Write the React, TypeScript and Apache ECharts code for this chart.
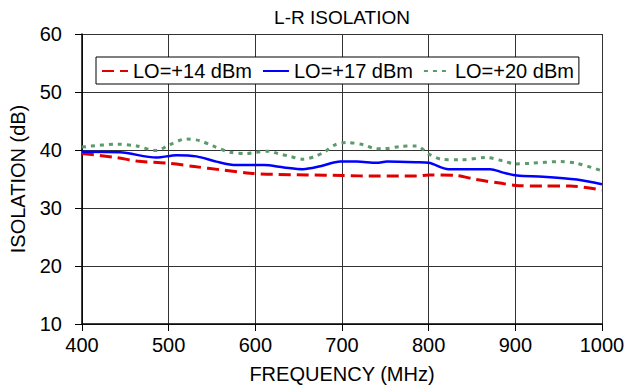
import React, { useEffect, useRef } from "react";
import * as echarts from "echarts";

const titleText = "L-R ISOLATION";
const xName = "FREQUENCY (MHz)";
const yName = "ISOLATION (dB)";
const seriesNames = ["LO=+14 dBm", "LO=+17 dBm", "LO=+20 dBm"];

const lo14Freq = [400, 440, 463, 500, 532, 559, 594, 620, 660, 700, 740, 786, 800, 832, 855, 882, 900, 932, 963, 1000];
const lo14Val = [39.4, 38.7, 38.1, 37.7, 37.1, 36.6, 36.0, 35.8, 35.7, 35.6, 35.5, 35.5, 35.7, 35.6, 34.9, 34.3, 33.9, 33.8, 33.8, 33.1];

const lo17Freq = [400, 444, 486, 509, 532, 555, 578, 610, 633, 655, 675, 698, 717, 740, 752, 786, 800, 823, 848, 871, 886, 902, 932, 971, 1000];
const lo17Val = [39.7, 39.6, 38.7, 39.1, 38.9, 38.0, 37.4, 37.4, 37.0, 36.7, 37.2, 38.0, 38.0, 37.8, 38.0, 37.9, 37.8, 36.7, 36.7, 36.7, 36.1, 35.6, 35.4, 34.9, 34.1];

const lo20Freq = [400, 440, 463, 486, 501, 520, 536, 551, 571, 590, 600, 616, 626, 640, 655, 669, 680, 692, 705, 725, 736, 748, 767, 786, 800, 815, 836, 867, 886, 900, 917, 952, 971, 1000];
const lo20Val = [40.5, 41.0, 40.7, 39.9, 40.9, 41.9, 41.6, 40.7, 39.6, 39.4, 39.6, 39.8, 39.4, 38.9, 38.4, 38.9, 39.7, 40.9, 41.3, 40.9, 40.3, 40.2, 40.6, 40.7, 39.3, 38.4, 38.3, 38.7, 38.1, 37.6, 37.7, 38.0, 37.7, 36.4];

const pair = (xs: number[], ys: number[]) => xs.map((x, i) => [x, ys[i]]);

const FONT = "'Liberation Sans', Arial, sans-serif";

export default function App() {
  const ref = useRef<HTMLDivElement>(null);
  useEffect(() => {
    document.body.style.margin = "0";
    const chart = echarts.init(ref.current!, null, { renderer: "svg" });
    chart.setOption({
      animation: false,
      backgroundColor: "#fff",
      textStyle: { fontFamily: FONT },
      grid: { left: 82, right: 35, top: 34, bottom: 68 },
      graphic: [
        {
          type: "text",
          x: 342,
          y: 8,
          style: { text: titleText, fontSize: 19, fontFamily: FONT, fill: "#000", textAlign: "center" },
        },
      ],
      legend: {
        left: 96,
        top: 57,
        orient: "horizontal",
        backgroundColor: "#fff",
        borderColor: "#000",
        borderWidth: 1,
        borderRadius: 0,
        padding: [4, 5, 3, 5],
        itemWidth: 26,
        itemHeight: 10,
        itemGap: 10,
        itemStyle: { opacity: 0 },
        textStyle: { fontSize: 20, color: "#000", fontFamily: FONT },
        data: seriesNames,
      },
      xAxis: {
        type: "value",
        min: 400,
        max: 1000,
        interval: 100,
        name: xName,
        nameLocation: "middle",
        nameGap: 40,
        nameTextStyle: { fontSize: 20, color: "#000", fontFamily: FONT },
        axisLine: { show: true, onZero: false, lineStyle: { color: "#000", width: 1.5 } },
        axisTick: { show: true, length: 7, lineStyle: { color: "#000" } },
        axisLabel: { fontSize: 20, color: "#000", margin: 11, fontFamily: FONT, formatter: (v: number) => String(v) },
        splitLine: { show: true, lineStyle: { color: "#333", width: 1 } },
      },
      yAxis: {
        type: "value",
        min: 10,
        max: 60,
        interval: 10,
        name: yName,
        nameLocation: "middle",
        nameGap: 54,
        nameTextStyle: { fontSize: 20, color: "#000", fontFamily: FONT },
        axisLine: { show: true, lineStyle: { color: "#000", width: 1.5 } },
        axisTick: { show: true, length: 7, lineStyle: { color: "#000" } },
        axisLabel: { fontSize: 20, color: "#000", margin: 20, fontFamily: FONT },
        splitLine: { show: true, lineStyle: { color: "#333", width: 1 } },
      },
      series: [
        {
          name: seriesNames[0],
          type: "line",
          data: pair(lo14Freq, lo14Val),
          smooth: 0.3,
          symbol: "none",
          lineStyle: { color: "#e00000", width: 3, type: [12, 6] },
          itemStyle: { color: "#e00000" },
          z: 3,
        },
        {
          name: seriesNames[1],
          type: "line",
          data: pair(lo17Freq, lo17Val),
          smooth: 0.3,
          symbol: "none",
          lineStyle: { color: "#0000ff", width: 2.5 },
          itemStyle: { color: "#0000ff" },
          z: 3,
        },
        {
          name: seriesNames[2],
          type: "line",
          data: pair(lo20Freq, lo20Val),
          smooth: 0.3,
          symbol: "none",
          lineStyle: { color: "#5b9a6b", width: 3, type: [4, 5] },
          itemStyle: { color: "#5b9a6b" },
          z: 3,
        },
      ],
    });
    return () => chart.dispose();
  }, []);
  return <div ref={ref} style={{ width: 637, height: 392 }} />;
}
